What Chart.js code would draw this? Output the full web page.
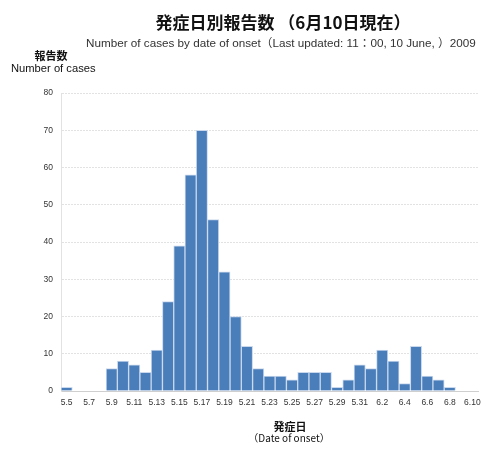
<!DOCTYPE html>
<html>
<head>
<meta charset="utf-8">
<script src="https://cdn.jsdelivr.net/npm/chart.js@4.4.1/dist/chart.umd.min.js"></script>
<style>
  html, body { margin: 0; padding: 0; background: #fff; }
  #wrap { position: relative; width: 499px; height: 452px; overflow: hidden; }
  #wrap canvas { position: absolute; left: 0; top: 0; }
  .t { position: absolute; white-space: nowrap; color: #111; line-height: 1; }
  .jp { font-family: "Noto Sans CJK JP", "Liberation Sans", sans-serif; }
  .en { font-family: "Liberation Sans", Arial, sans-serif; }
</style>
</head>
<body>
<div id="wrap">
  <canvas id="chart" width="499" height="452"></canvas>
  <div class="t jp" style="left:0;width:566px;text-align:center;top:13px;font-size:17px;font-weight:bold;">発症日別報告数 （6月10日現在）</div>
  <div class="t en" style="left:86px;top:36px;font-size:11.7px;color:#333;">Number of cases by date of onset<span class="jp">（</span>Last updated: 11<span class="jp">：</span>00, 10 June, <span class="jp">）</span>2009</div>
  <div class="t jp" style="left:0;width:102px;text-align:center;top:50px;font-size:11px;font-weight:bold;">報告数</div>
  <div class="t en" style="left:11px;top:63px;font-size:11.2px;">Number of cases</div>
  <div class="t jp" style="left:0;width:580px;text-align:center;top:421px;font-size:11px;font-weight:bold;">発症日</div>
  <div class="t jp" style="left:0;width:578px;text-align:center;top:433px;font-size:10px;">（Date of onset）</div>
</div>
<script>
const dates = ['5.5', '5.6', '5.7', '5.8', '5.9', '5.10', '5.11', '5.12', '5.13', '5.14',
  '5.15', '5.16', '5.17', '5.18', '5.19', '5.20', '5.21', '5.22', '5.23', '5.24',
  '5.25', '5.26', '5.27', '5.28', '5.29', '5.30', '5.31', '6.1', '6.2', '6.3',
  '6.4', '6.5', '6.6', '6.7', '6.8', '6.9', '6.10'];
const cases = [1, 0, 0, 0, 6, 8, 7, 5, 11, 24,
  39, 58, 70, 46, 32, 20, 12, 6, 4, 4,
  3, 5, 5, 5, 1, 3, 7, 6, 11, 8,
  2, 12, 4, 3, 1, 0, 0];
const yTicks = [0, 10, 20, 30, 40, 50, 60, 70, 80];

const tickFont = { family: '"Liberation Sans", Arial, sans-serif', size: 8.5 };

new Chart(document.getElementById('chart'), {
  type: 'bar',
  data: {
    labels: dates,
    datasets: [{
      data: cases,
      backgroundColor: '#4a7ebb',
      borderColor: '#c9d8ec',
      borderWidth: 1,
      barPercentage: 1,
      categoryPercentage: 1
    }]
  },
  options: {
    responsive: false,
    animation: false,
    layout: { padding: { top: 93, right: 21, left: 0, bottom: 0 } },
    plugins: { legend: { display: false }, tooltip: { enabled: false } },
    scales: {
      x: {
        grid: { display: false, drawTicks: false },
        border: { display: true, color: '#cfcfcf', dash: [1, 1] },
        ticks: {
          autoSkip: false,
          maxRotation: 0,
          padding: 7,
          color: '#333',
          font: tickFont,
          callback: (v, i) => (i % 2 === 0 ? dates[i] : '')
        },
        afterFit: s => { s.height = 61; }
      },
      y: {
        min: 0,
        max: 80,
        afterBuildTicks: s => { s.ticks = yTicks.map(v => ({ value: v })); },
        grid: { color: '#e2e2e2', drawTicks: false },
        border: { display: true, color: '#e2e2e2', dash: [2, 1] },
        ticks: { padding: 8, color: '#333', font: tickFont },
        afterFit: s => { s.width = 61; }
      }
    }
  }
});
</script>
</body>
</html>
